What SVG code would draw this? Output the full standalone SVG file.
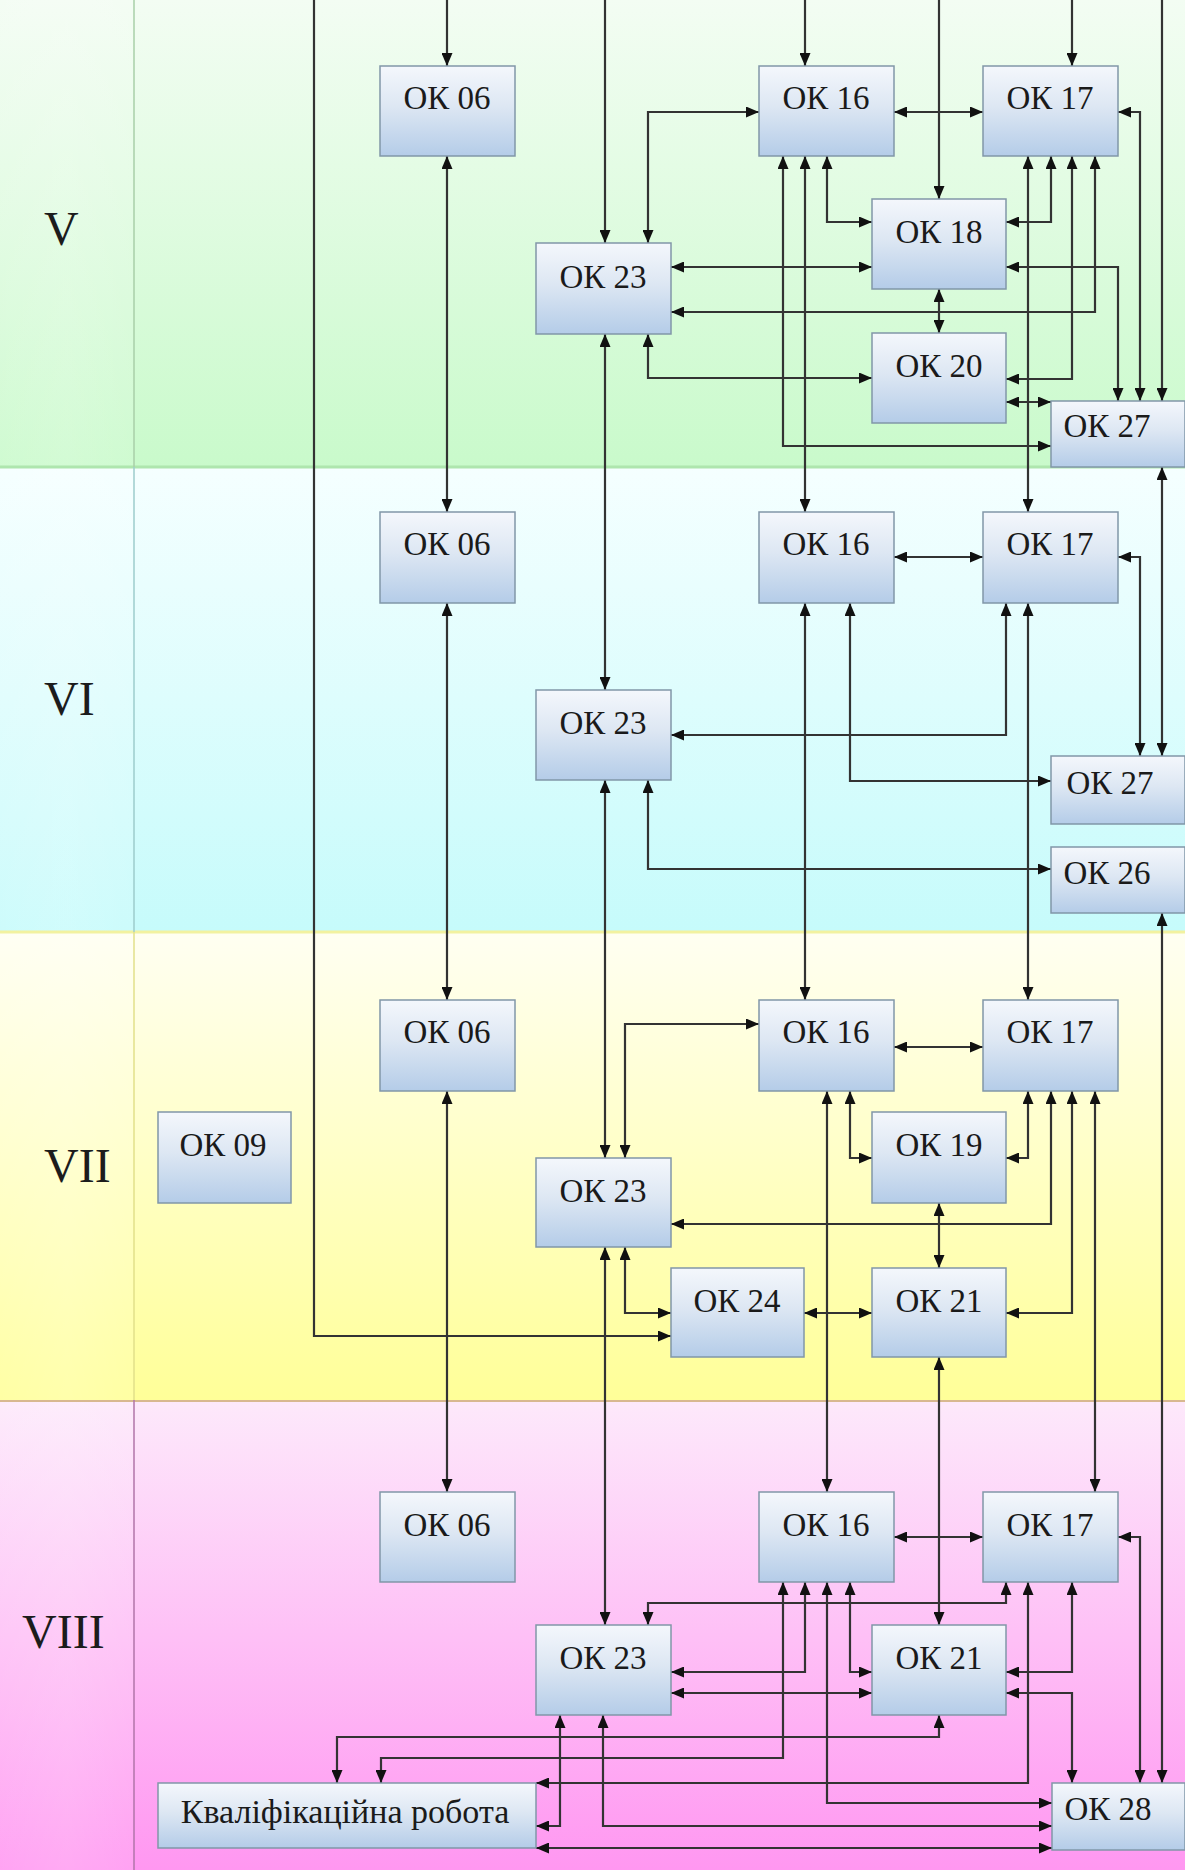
<svg xmlns="http://www.w3.org/2000/svg" width="1185" height="1870" viewBox="0 0 1185 1870">
<defs>
<linearGradient id="gV" x1="0" y1="0" x2="0" y2="1"><stop offset="0" stop-color="#f3fdf3"/><stop offset="1" stop-color="#c9facb"/></linearGradient>
<linearGradient id="gVI" x1="0" y1="0" x2="0" y2="1"><stop offset="0" stop-color="#f5ffff"/><stop offset="1" stop-color="#c6fbfb"/></linearGradient>
<linearGradient id="gVII" x1="0" y1="0" x2="0" y2="1"><stop offset="0" stop-color="#fffff2"/><stop offset="1" stop-color="#ffff98"/></linearGradient>
<linearGradient id="gVIII" x1="0" y1="0" x2="0" y2="1"><stop offset="0" stop-color="#fde9fb"/><stop offset="1" stop-color="#ff97f1"/></linearGradient>
<linearGradient id="gLeft" x1="0" y1="0" x2="1" y2="0"><stop offset="0" stop-color="#ffffff" stop-opacity="0.12"/><stop offset="0.5" stop-color="#ffffff" stop-opacity="0.18"/><stop offset="1" stop-color="#ffffff" stop-opacity="0.1"/></linearGradient>
<linearGradient id="gBox" x1="0" y1="0" x2="0" y2="1"><stop offset="0" stop-color="#f4f7fc"/><stop offset="0.45" stop-color="#dde7f3"/><stop offset="1" stop-color="#b4cce8"/></linearGradient>
<marker id="ah" viewBox="0 0 13 11" refX="13" refY="5.5" markerWidth="13" markerHeight="11" markerUnits="userSpaceOnUse" orient="auto-start-reverse"><path d="M0,0 L13,5.5 L0,11 z" fill="#111"/></marker>
<style>
.box{fill:url(#gBox);stroke:#8197a8;stroke-width:1.5}
.lbl{font-family:"Liberation Serif","Times New Roman",serif;font-size:33px;fill:#1a1a1a;text-anchor:middle}
.kr{font-size:34px}
.sem{font-family:"Liberation Serif","Times New Roman",serif;font-size:48px;fill:#1c1c1c}
.c path{fill:none;stroke:#333;stroke-width:2.2;marker-start:url(#ah);marker-end:url(#ah)}
.c path.s{marker-start:none}
</style>
</defs>
<g id="bands">
<rect x="0" y="0" width="1185" height="467" fill="url(#gV)"/>
<rect x="0" y="467" width="1185" height="465" fill="url(#gVI)"/>
<rect x="0" y="932" width="1185" height="468" fill="url(#gVII)"/>
<rect x="0" y="1400" width="1185" height="470" fill="url(#gVIII)"/>
<rect x="0" y="0" width="134" height="1870" fill="url(#gLeft)"/>
<line x1="0" y1="467" x2="1185" y2="467" stroke="#aee6ae" stroke-width="3"/>
<line x1="0" y1="932" x2="1185" y2="932" stroke="#f2f2a0" stroke-width="3"/>
<line x1="0" y1="1401" x2="1185" y2="1401" stroke="#d8b890" stroke-width="2"/>
<line x1="134" y1="0" x2="134" y2="467" stroke="#a8cfa8" stroke-width="1.5"/>
<line x1="134" y1="467" x2="134" y2="932" stroke="#9ccccc" stroke-width="1.5"/>
<line x1="134" y1="932" x2="134" y2="1400" stroke="#e2e08a" stroke-width="1.5"/>
<line x1="134" y1="1400" x2="134" y2="1870" stroke="#b074a8" stroke-width="1.5"/>
<text class="sem" x="44" y="245">V</text>
<text class="sem" x="44" y="715">VI</text>
<text class="sem" x="44" y="1182">VII</text>
<text class="sem" x="22" y="1648">VIII</text>
</g>
<g id="connectors" class="c">
<path class="s" d="M314,0 V1336 H671"/>
<path class="s" d="M447,0 V66"/>
<path class="s" d="M605,0 V243"/>
<path class="s" d="M805,0 V66"/>
<path class="s" d="M939,0 V199"/>
<path class="s" d="M1072,0 V66"/>
<path class="s" d="M1162,0 V401"/>
<path d="M648,243 V112 H759"/>
<path d="M894,112 H983"/>
<path d="M783,156 V446 H1051"/>
<path d="M805,156 V512"/>
<path d="M827,156 V222 H872"/>
<path d="M1028,156 V512"/>
<path d="M1051,156 V222 H1006"/>
<path d="M1072,156 V379 H1006"/>
<path d="M1095,156 V312 H671"/>
<path d="M1006,267 H1118 V401"/>
<path d="M1118,112 H1140 V401"/>
<path d="M671,267 H872"/>
<path d="M939,289 V333"/>
<path d="M605,334 V690"/>
<path d="M648,334 V378 H872"/>
<path d="M1006,402 H1051"/>
<path d="M447,156 V512"/>
<path d="M1162,467 V756"/>
<path d="M894,557 H983"/>
<path d="M1118,557 H1140 V756"/>
<path d="M805,603 V1000"/>
<path d="M850,603 V781 H1051"/>
<path d="M1006,603 V735 H671"/>
<path d="M1028,603 V1000"/>
<path d="M605,780 V1158"/>
<path d="M648,780 V869 H1051"/>
<path d="M1162,913 V1783"/>
<path d="M447,603 V1000"/>
<path d="M894,1047 H983"/>
<path d="M625,1158 V1024 H759"/>
<path d="M827,1091 V1492"/>
<path d="M850,1091 V1158 H872"/>
<path d="M1028,1091 V1158 H1006"/>
<path d="M1051,1091 V1224 H671"/>
<path d="M1072,1091 V1313 H1006"/>
<path d="M1095,1091 V1492"/>
<path d="M939,1203 V1268"/>
<path d="M804,1313 H872"/>
<path d="M605,1247 V1625"/>
<path d="M625,1247 V1313 H671"/>
<path d="M939,1357 V1625"/>
<path d="M447,1091 V1492"/>
<path d="M894,1537 H983"/>
<path d="M648,1625 V1603 H1006 V1582"/>
<path d="M805,1582 V1672 H671"/>
<path d="M783,1582 V1758 H381 V1783"/>
<path d="M827,1582 V1803 H1052"/>
<path d="M850,1582 V1672 H872"/>
<path d="M1028,1582 V1783 H536"/>
<path d="M1072,1582 V1672 H1006"/>
<path d="M1118,1537 H1140 V1783"/>
<path d="M1006,1693 H1072 V1783"/>
<path d="M671,1693 H872"/>
<path d="M939,1715 V1737 H337 V1783"/>
<path d="M603,1715 V1826 H1052"/>
<path d="M560,1715 V1826 H536"/>
<path d="M536,1848 H1052"/>
</g>
<g id="n_v_06"><rect class="box" x="380" y="66" width="135" height="90"/><text class="lbl" x="447" y="109">ОК 06</text></g>
<g id="n_v_16"><rect class="box" x="759" y="66" width="135" height="90"/><text class="lbl" x="826" y="109">ОК 16</text></g>
<g id="n_v_17"><rect class="box" x="983" y="66" width="135" height="90"/><text class="lbl" x="1050" y="109">ОК 17</text></g>
<g id="n_v_18"><rect class="box" x="872" y="199" width="134" height="90"/><text class="lbl" x="939" y="243">ОК 18</text></g>
<g id="n_v_23"><rect class="box" x="536" y="243" width="135" height="91"/><text class="lbl" x="603" y="288">ОК 23</text></g>
<g id="n_v_20"><rect class="box" x="872" y="333" width="134" height="90"/><text class="lbl" x="939" y="377">ОК 20</text></g>
<g id="n_v_27"><rect class="box" x="1051" y="401" width="134" height="66"/><text class="lbl" x="1107" y="437">ОК 27</text></g>
<g id="n_vi_06"><rect class="box" x="380" y="512" width="135" height="91"/><text class="lbl" x="447" y="555">ОК 06</text></g>
<g id="n_vi_16"><rect class="box" x="759" y="512" width="135" height="91"/><text class="lbl" x="826" y="555">ОК 16</text></g>
<g id="n_vi_17"><rect class="box" x="983" y="512" width="135" height="91"/><text class="lbl" x="1050" y="555">ОК 17</text></g>
<g id="n_vi_23"><rect class="box" x="536" y="690" width="135" height="90"/><text class="lbl" x="603" y="734">ОК 23</text></g>
<g id="n_vi_27"><rect class="box" x="1051" y="756" width="134" height="68"/><text class="lbl" x="1110" y="794">ОК 27</text></g>
<g id="n_vi_26"><rect class="box" x="1051" y="847" width="134" height="66"/><text class="lbl" x="1107" y="884">ОК 26</text></g>
<g id="n_vii_06"><rect class="box" x="380" y="1000" width="135" height="91"/><text class="lbl" x="447" y="1043">ОК 06</text></g>
<g id="n_vii_09"><rect class="box" x="158" y="1112" width="133" height="91"/><text class="lbl" x="223" y="1156">ОК 09</text></g>
<g id="n_vii_16"><rect class="box" x="759" y="1000" width="135" height="91"/><text class="lbl" x="826" y="1043">ОК 16</text></g>
<g id="n_vii_17"><rect class="box" x="983" y="1000" width="135" height="91"/><text class="lbl" x="1050" y="1043">ОК 17</text></g>
<g id="n_vii_19"><rect class="box" x="872" y="1112" width="134" height="91"/><text class="lbl" x="939" y="1156">ОК 19</text></g>
<g id="n_vii_23"><rect class="box" x="536" y="1158" width="135" height="89"/><text class="lbl" x="603" y="1202">ОК 23</text></g>
<g id="n_vii_24"><rect class="box" x="671" y="1268" width="133" height="89"/><text class="lbl" x="737" y="1312">ОК 24</text></g>
<g id="n_vii_21"><rect class="box" x="872" y="1268" width="134" height="89"/><text class="lbl" x="939" y="1312">ОК 21</text></g>
<g id="n_viii_06"><rect class="box" x="380" y="1492" width="135" height="90"/><text class="lbl" x="447" y="1536">ОК 06</text></g>
<g id="n_viii_16"><rect class="box" x="759" y="1492" width="135" height="90"/><text class="lbl" x="826" y="1536">ОК 16</text></g>
<g id="n_viii_17"><rect class="box" x="983" y="1492" width="135" height="90"/><text class="lbl" x="1050" y="1536">ОК 17</text></g>
<g id="n_viii_23"><rect class="box" x="536" y="1625" width="135" height="90"/><text class="lbl" x="603" y="1669">ОК 23</text></g>
<g id="n_viii_21"><rect class="box" x="872" y="1625" width="134" height="90"/><text class="lbl" x="939" y="1669">ОК 21</text></g>
<g id="n_viii_28"><rect class="box" x="1052" y="1783" width="133" height="67"/><text class="lbl" x="1108" y="1820">ОК 28</text></g>
<g id="n_viii_kr"><rect class="box" x="158" y="1783" width="378" height="65"/><text class="lbl kr" x="345" y="1823">Кваліфікаційна робота</text></g>
</svg>
